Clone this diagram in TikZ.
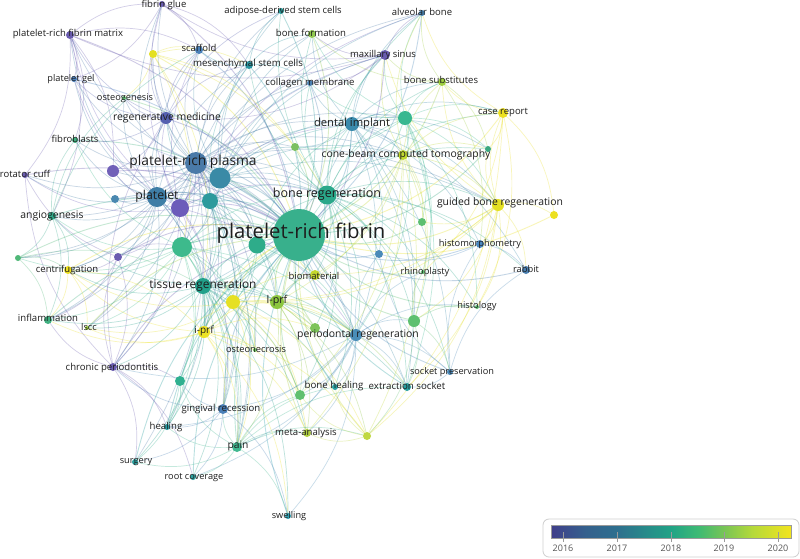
\documentclass[tikz,border=0pt]{standalone}
\usepackage{fontspec}
\setmainfont{Open Sans}
\pgfdeclarelayer{bg}
\pgfsetlayers{bg,main}
\definecolor{va}{HTML}{403E8A}
\definecolor{vb}{HTML}{35608D}
\definecolor{vc}{HTML}{2E6F8E}
\definecolor{vd}{HTML}{21A386}
\definecolor{ve}{HTML}{3DBA74}
\definecolor{vf}{HTML}{7AC555}
\definecolor{vg}{HTML}{B4D93A}
\definecolor{vh}{HTML}{F2E41E}
\pgfdeclarehorizontalshading{viri}{100bp}{color(0bp)=(va); color(25bp)=(va); color(32bp)=(vb); color(38.75bp)=(vc); color(50bp)=(vd); color(55.6bp)=(ve); color(61.25bp)=(vf); color(66.9bp)=(vg); color(75bp)=(vh); color(100bp)=(vh)}
\definecolor{labc}{HTML}{1E1E1E}
\definecolor{framec}{HTML}{CFCFCF}
\definecolor{barc}{HTML}{9A9A9A}
\definecolor{yrc}{HTML}{555555}
\tikzset{
  vn/.style={circle, inner sep=0pt, draw=none},
  lab/.style={font=\fontsize{#1}{#1}\selectfont, text=labc, inner sep=0pt, anchor=mid},
  edg/.style={line width=0.7pt, draw opacity=0.3, line cap=round},
  hub/.style={line width=0.9pt, draw opacity=0.32, line cap=round}
}
\newcommand{\vw}[5]{\definecolor{c#1}{HTML}{#5}\node[vn, minimum size=#4, fill=c#1] (#1) at (#2,#3) {};}
\begin{document}
\begin{tikzpicture}[x=1pt,y=-1pt]
\useasboundingbox (0,0) rectangle (800,558);
% nodes
\vw{prf}{299}{235}{52}{38B08C}
\vw{prp}{196}{163}{22}{4A7AA8}
\vw{nb}{220}{178}{21}{3A8AA6}
\vw{pltt}{157}{197}{20}{3F7EA6}
\vw{pua}{180}{208}{18}{6C5CBA}
\vw{nt}{210}{201}{16}{2C9A9C}
\vw{ng}{182}{247}{20}{3DBA8C}
\vw{nh}{257}{245}{17}{2EAC8A}
\vw{bonereg}{327}{195}{19}{2AA88A}
\vw{tisreg}{203}{286}{16}{22A08A}
\vw{ny}{233}{302}{14}{E6E022}
\vw{lprf}{277}{302}{14}{8CC63F}
\vw{iprf}{204}{332}{12}{ECE224}
\vw{biomat}{315}{275}{10}{C4D82E}
\vw{nl}{315}{328}{10}{7CC458}
\vw{perreg}{356}{335}{12}{4A8EB8}
\vw{nm}{414}{321}{12}{5EC070}
\vw{nsb}{379}{254}{8}{4A8AB8}
\vw{nsg}{422}{222}{8}{5CBF70}
\vw{rhino}{423}{272}{4}{60C070}
\vw{histol}{477}{307}{4}{5CBF70}
\vw{histom}{480}{244}{8}{4A88C0}
\vw{gbr}{498}{205}{12}{E4E024}
\vw{rabbit}{526}{270}{8}{4A7FB0}
\vw{nyy}{554}{215}{8}{ECE020}
\vw{adsc}{281}{11}{6}{2A9A9A}
\vw{alvb}{422}{13}{6}{4A88B8}
\vw{bonef}{312}{34}{8}{90C850}
\vw{maxs}{385}{55}{10}{6A5CB0}
\vw{colm}{310}{83}{6}{4A80B0}
\vw{bsub}{442}{82}{8}{A0D040}
\vw{caser}{503}{113}{10}{ECE020}
\vw{dimp}{352}{124}{14}{3A8AAC}
\vw{ndg}{405}{118}{14}{38B890}
\vw{nsm}{295}{147}{8}{7AC060}
\vw{cbct}{403}{155}{10}{C0D830}
\vw{ntr}{488}{149}{6}{3AA880}
\vw{fglue}{162}{4}{6}{6A5CB0}
\vw{prfm}{70}{35}{8}{6A5CB0}
\vw{nyl}{153}{54}{8}{E4E020}
\vw{scaf}{199}{50}{8}{4A80B8}
\vw{msc}{249}{65}{8}{2A95A0}
\vw{pgel}{74}{79}{6}{4A80C0}
\vw{osteog}{124}{98}{4}{60C070}
\vw{regmed}{166}{118}{12}{5560B0}
\vw{fibro}{75}{140}{6}{40B080}
\vw{rotc}{25}{175}{6}{6A5CB0}
\vw{pub}{113}{171}{12}{7060B8}
\vw{nbl}{115}{199}{8}{4A88B0}
\vw{angio}{52}{216}{8}{30A888}
\vw{nfl}{18}{258}{6}{50B878}
\vw{puc}{118}{257}{8}{6A5CB0}
\vw{centr}{68}{270}{8}{ECE020}
\vw{inflam}{48}{320}{8}{40B080}
\vw{lscc}{87}{328}{4}{A0D040}
\vw{osteon}{255}{350}{4}{70C060}
\vw{chrp}{113}{367}{8}{6A5CB0}
\vw{nga}{180}{381}{10}{30B090}
\vw{gingr}{223}{409}{10}{4A80B8}
\vw{heal}{167}{427}{6}{2A9AA0}
\vw{pain}{237}{447}{10}{40B890}
\vw{surg}{135}{462}{6}{2AA0A0}
\vw{rootc}{193}{477}{6}{2AA0A0}
\vw{sockp}{450}{372}{6}{4A88B8}
\vw{boneh}{335}{387}{6}{2AA0A0}
\vw{extrs}{407}{387}{8}{2AA0A0}
\vw{nbh}{300}{395}{10}{60C070}
\vw{meta}{307}{433}{8}{B0D040}
\vw{nym}{367}{436}{8}{C0D840}
\vw{swell}{288}{516}{6}{30A0B0}
% edges
\begin{pgfonlayer}{bg}
\fill[white] (0,0) rectangle (800,558);
\foreach \a in {prp,nb,pltt,pua,nt,ng,nh,bonereg,tisreg,ny,lprf,iprf,biomat,nl,perreg,nm,nsb,nsg,rhino,histol,histom,gbr,rabbit,nyy,adsc,alvb,bonef,maxs,colm,bsub,caser,dimp,ndg,nsm,cbct,ntr,fglue,prfm,nyl,scaf,msc,pgel,osteog,regmed,fibro,rotc,pub,nbl,angio,nfl,puc,centr,inflam,lscc,osteon,chrp,nga,gingr,heal,pain,surg,rootc,sockp,boneh,extrs,nbh,meta,nym,swell}
  {\draw[hub, draw=c\a] (\a) to[bend left=20] (prf);}
\foreach \a/\b in {prp/pltt,prp/nb,prp/pua,prp/nt,prp/ng,prp/nh,prp/bonereg,prp/tisreg,prp/regmed,prp/prfm,prp/pgel,prp/fglue,prp/scaf,prp/msc,prp/adsc,prp/fibro,prp/angio,prp/rotc,prp/pub,prp/nbl,prp/puc,prp/centr,prp/inflam,prp/chrp,prp/gingr,prp/pain,prp/dimp,prp/maxs,prp/bonef,prp/colm,prp/nsm,prp/ndg,prp/perreg,prp/iprf,prp/lprf,prp/ny,prp/biomat,prp/osteog,prp/heal,prp/surg,prp/osteon,prp/lscc,prp/nfl,prp/nyl,prp/alvb,prp/cbct,prp/gbr,
pltt/pua,pltt/nb,pltt/nt,pltt/ng,pltt/regmed,pltt/prfm,pltt/pgel,pltt/fglue,pltt/angio,pltt/pub,pltt/nbl,pltt/rotc,pltt/fibro,pltt/centr,pltt/tisreg,pltt/chrp,pltt/inflam,pltt/scaf,pltt/msc,pltt/nh,pltt/bonereg,pltt/puc,pltt/nfl,pltt/osteog,pltt/iprf,pltt/pain,pltt/lscc,
pua/nb,pua/nt,pua/ng,pua/regmed,pua/prfm,pua/fglue,pua/pub,pua/puc,pua/rotc,pua/chrp,pua/maxs,pua/scaf,pua/tisreg,pua/pgel,pua/bonereg,pua/dimp,pua/gingr,pua/perreg,pua/alvb,
nb/nt,nb/ng,nb/nh,nb/bonereg,nb/dimp,nb/msc,nb/adsc,nb/tisreg,nb/regmed,nb/scaf,nb/ndg,nb/colm,nb/alvb,nb/bonef,nb/nsm,nb/maxs,nb/gbr,nb/cbct,nb/perreg,nb/extrs,
nt/ng,nt/nh,nt/bonereg,nt/tisreg,nt/regmed,nt/msc,nt/dimp,nt/lprf,nt/iprf,nt/pain,nt/gingr,
ng/tisreg,ng/nh,ng/bonereg,ng/angio,ng/fibro,ng/inflam,ng/centr,ng/pain,ng/nga,ng/gingr,ng/iprf,ng/lprf,ng/osteon,ng/ny,ng/nfl,ng/lscc,ng/heal,ng/perreg,
nh/bonereg,nh/tisreg,nh/lprf,nh/biomat,nh/perreg,nh/dimp,nh/iprf,nh/ny,
bonereg/dimp,bonereg/ndg,bonereg/cbct,bonereg/gbr,bonereg/bsub,bonereg/maxs,bonereg/alvb,bonereg/bonef,bonereg/colm,bonereg/nsm,bonereg/nsg,bonereg/nsb,bonereg/histom,bonereg/rabbit,bonereg/biomat,bonereg/lprf,bonereg/perreg,bonereg/nl,bonereg/nm,bonereg/extrs,bonereg/sockp,bonereg/boneh,bonereg/nbh,bonereg/caser,bonereg/ntr,bonereg/histol,bonereg/msc,bonereg/adsc,bonereg/tisreg,bonereg/rhino,
dimp/ndg,dimp/cbct,dimp/maxs,dimp/alvb,dimp/bsub,dimp/colm,dimp/bonef,dimp/gbr,dimp/histom,dimp/extrs,dimp/sockp,dimp/nsb,dimp/rabbit,dimp/perreg,dimp/nm,dimp/caser,dimp/ntr,dimp/nsm,dimp/tisreg,dimp/lprf,
ndg/cbct,ndg/bsub,ndg/maxs,ndg/alvb,ndg/gbr,ndg/caser,ndg/ntr,ndg/nsg,ndg/nm,ndg/extrs,ndg/rhino,ndg/histol,ndg/bonef,ndg/colm,ndg/nsm,ndg/perreg,
cbct/gbr,cbct/caser,cbct/bsub,cbct/ntr,cbct/nym,cbct/meta,cbct/nbh,cbct/nm,cbct/rhino,cbct/maxs,cbct/alvb,cbct/nsg,cbct/lprf,cbct/biomat,
gbr/caser,gbr/nyy,gbr/bsub,gbr/rabbit,gbr/histom,gbr/ntr,gbr/nsg,gbr/nym,gbr/lprf,gbr/biomat,gbr/ny,gbr/histol,gbr/nm,gbr/extrs,gbr/maxs,
caser/nyy,caser/bsub,caser/histol,caser/rhino,caser/nym,caser/ntr,caser/alvb,
bsub/maxs,bsub/alvb,bsub/histom,bsub/ntr,bsub/bonef,
maxs/alvb,maxs/bonef,maxs/colm,maxs/regmed,maxs/prfm,maxs/fglue,
tisreg/ny,tisreg/iprf,tisreg/lprf,tisreg/perreg,tisreg/gingr,tisreg/pain,tisreg/nga,tisreg/heal,tisreg/surg,tisreg/rootc,tisreg/chrp,tisreg/centr,tisreg/lscc,tisreg/inflam,tisreg/osteon,tisreg/nl,tisreg/boneh,tisreg/swell,tisreg/meta,tisreg/nbh,tisreg/angio,tisreg/extrs,
ny/iprf,ny/lprf,ny/centr,ny/biomat,ny/nl,ny/meta,ny/nym,ny/perreg,ny/nbh,ny/lscc,ny/osteon,ny/pain,
iprf/lprf,iprf/centr,iprf/nl,iprf/pain,iprf/gingr,iprf/meta,iprf/nym,iprf/nbh,iprf/osteon,iprf/lscc,iprf/inflam,iprf/swell,
lprf/biomat,lprf/nl,lprf/perreg,lprf/nbh,lprf/meta,lprf/pain,lprf/nym,lprf/extrs,lprf/boneh,
perreg/nl,perreg/nm,perreg/gingr,perreg/chrp,perreg/extrs,perreg/sockp,perreg/boneh,perreg/heal,perreg/pain,perreg/nbh,perreg/rootc,perreg/swell,perreg/nsb,perreg/rhino,perreg/histol,perreg/meta,
pain/swell,pain/nbh,pain/meta,pain/gingr,pain/heal,pain/surg,pain/rootc,pain/boneh,pain/nga,pain/extrs,pain/nym,
gingr/rootc,gingr/heal,gingr/surg,gingr/chrp,gingr/nga,gingr/swell,
chrp/surg,chrp/heal,chrp/nga,chrp/puc,chrp/rotc,chrp/inflam,chrp/regmed,chrp/rootc,
regmed/prfm,regmed/fglue,regmed/scaf,regmed/msc,regmed/pgel,regmed/osteog,regmed/nyl,regmed/fibro,regmed/pub,regmed/adsc,
prfm/pgel,prfm/fglue,prfm/rotc,prfm/pub,prfm/fibro,prfm/angio,prfm/scaf,
fglue/scaf,fglue/pgel,fglue/msc,
nyl/osteog,nyl/msc,nyl/scaf,nyl/bonereg,nyl/nsm,nyl/tisreg,nyl/ng,
angio/inflam,angio/fibro,angio/centr,angio/nfl,angio/osteog,angio/scaf,
nfl/centr,nfl/inflam,nfl/tisreg,
puc/centr,puc/inflam,puc/chrp,puc/ng,puc/rotc,
nm/extrs,nm/sockp,nm/histol,nm/rhino,nm/nym,
sockp/extrs,sockp/histom,sockp/rabbit,sockp/nsb,
nym/meta,nym/boneh,nym/nbh,
centr/inflam,centr/lscc,centr/iprf,
msc/adsc,msc/scaf,msc/colm,msc/bonef,
histom/rabbit,histom/nsb,
nga/heal,nga/surg}
  {\draw[edg, draw=c\a] (\a) to[bend left=20] (\b);}
\end{pgfonlayer}
% labels
\node[lab=9.5] (fglueL) at (164,5) {fibrin glue};
\node[lab=9.5] (adscL) at (283,11) {adipose-derived stem cells};
\node[lab=9.5] (alvbL) at (422,13) {alveolar bone};
\node[lab=9.5] (prfmL) at (68,34) {platelet-rich fibrin matrix};
\node[lab=9.6] (bonefL) at (311,34) {bone formation};
\node[lab=9.5] (maxsL) at (383,55) {maxillary sinus};
\node[lab=9.5] (scafL) at (199,49) {scaffold};
\node[lab=9.7] (mscL) at (248,64) {mesenchymal stem cells};
\node[lab=9.6] (colmL) at (310,83) {collagen membrane};
\node[lab=9.5] (bsubL) at (441,81) {bone substitutes};
\node[lab=9.2] (pgelL) at (71,79) {platelet gel};
\node[lab=9.2] (osteogL) at (125,98) {osteogenesis};
\node[lab=9.5] (caserL) at (503,112) {case report};
\node[lab=10.4] (regmedL) at (167,118) {regenerative medicine};
\node[lab=11.2] (dimpL) at (352,124) {dental implant};
\node[lab=9.5] (fibroL) at (75,140) {fibroblasts};
\node[lab=10.4] (cbctL) at (406,155) {cone-beam computed tomography};
\node[lab=13.8] (prpL) at (193,163) {platelet-rich plasma};
\node[lab=9.5] (rotcL) at (25,175) {rotator cuff};
\node[lab=12.3] (plttL) at (157,197) {platelet};
\node[lab=12.5] (boneregL) at (327,195) {bone regeneration};
\node[lab=10.4] (gbrL) at (500,203) {guided bone regeneration};
\node[lab=10.4] (angioL) at (52,216) {angiogenesis};
\node[lab=20.3] (prfL) at (301,236) {platelet-rich fibrin};
\node[lab=9.3] (histomL) at (480,244) {histomorphometry};
\node[lab=9.5] (centrL) at (67,270) {centrifugation};
\node[lab=9.3] (rabbitL) at (526,270) {rabbit};
\node[lab=9.3] (rhinoL) at (425,272) {rhinoplasty};
\node[lab=9.5] (biomatL) at (314,277) {biomaterial};
\node[lab=11.9] (tisregL) at (203,286) {tissue regeneration};
\node[lab=10.7] (lprfL) at (277,301) {l-prf};
\node[lab=9.3] (histolL) at (477,306) {histology};
\node[lab=9.6] (inflamL) at (48,319) {inflammation};
\node[lab=9.3] (lsccL) at (89,328) {lscc};
\node[lab=10] (iprfL) at (204,331) {i-prf};
\node[lab=10.4] (perregL) at (358,335) {periodontal regeneration};
\node[lab=9.3] (osteonL) at (256,350) {osteonecrosis};
\node[lab=9.6] (chrpL) at (112,368) {chronic periodontitis};
\node[lab=9.2] (sockpL) at (452,372) {socket preservation};
\node[lab=9.7] (bonehL) at (334,386) {bone healing};
\node[lab=9.7] (extrsL) at (407,387) {extraction socket};
\node[lab=9.6] (gingrL) at (221,409) {gingival recession};
\node[lab=9.6] (healL) at (166,427) {healing};
\node[lab=9.6] (metaL) at (306,433) {meta-analysis};
\node[lab=10.3] (painL) at (238,446) {pain};
\node[lab=9.2] (surgL) at (136,461) {surgery};
\node[lab=9.2] (rootcL) at (194,477) {root coverage};
\node[lab=9.2] (swellL) at (289,516) {swelling};
% colour bar
\draw[framec, line width=0.8pt, rounded corners=6pt] (543,519) rectangle (799,557);
\path[shading=viri] (551,525) rectangle (791,538);
\draw[barc, line width=0.8pt] (551,525) rectangle (791,538);
\foreach \t/\x in {2016/563,2017/617,2018/671,2019/724,2020/778}{
  \draw[barc, line width=0.8pt] (\x,532) -- (\x,542);
  \node[font=\fontsize{9}{9}\selectfont, text=yrc, anchor=mid, inner sep=0pt] (yr\t) at (\x,549) {\t};
}
\end{tikzpicture}
\end{document}
